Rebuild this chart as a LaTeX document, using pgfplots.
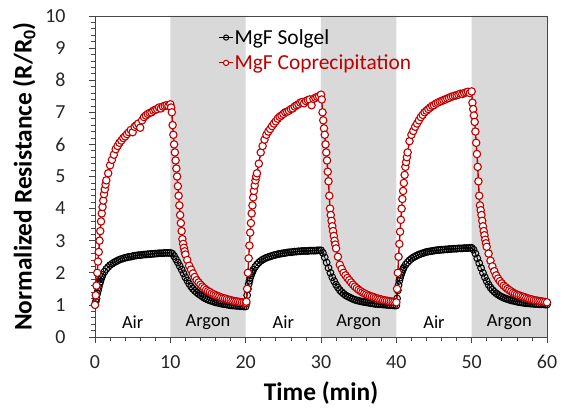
\documentclass[border=0pt]{standalone}
\usepackage{pgfplots}
\usepackage{pgfplotstable}
\pgfplotsset{compat=1.18}
\usepackage{fontspec}
\setmainfont{Carlito}
\definecolor{myred}{RGB}{192,0,0}
\definecolor{shade}{RGB}{217,217,217}
\definecolor{frame}{RGB}{70,70,70}

\pgfplotstableread{
t v
0.0 1.00
0.1 1.10
0.2 1.20
0.3 1.35
0.4 1.45
0.5 1.55
0.6 1.65
0.7 1.72
0.8 1.80
0.9 1.87
1.0 1.93
1.25 2.03
1.5 2.12
1.75 2.18
2.0 2.24
2.25 2.28
2.5 2.32
2.75 2.35
3.0 2.38
3.25 2.41
3.5 2.43
3.75 2.45
4.0 2.47
4.25 2.48
4.5 2.50
4.75 2.50
5.0 2.52
5.25 2.53
5.5 2.54
5.75 2.55
6.0 2.55
6.25 2.56
6.5 2.57
6.75 2.57
7.0 2.58
7.25 2.58
7.5 2.59
7.75 2.59
8.0 2.60
8.25 2.60
8.5 2.61
8.75 2.61
9.0 2.61
9.25 2.62
9.5 2.62
9.75 2.62
10.0 2.62
10.25 2.60
10.5 2.52
10.75 2.42
11.0 2.32
11.25 2.21
11.5 2.10
11.75 1.98
12.0 1.86
12.25 1.76
12.5 1.66
12.75 1.57
13.0 1.50
13.25 1.44
13.5 1.39
13.75 1.34
14.0 1.30
14.25 1.26
14.5 1.22
14.75 1.19
15.0 1.16
15.25 1.14
15.5 1.12
15.75 1.10
16.0 1.08
16.25 1.07
16.5 1.05
16.75 1.04
17.0 1.03
17.25 1.02
17.5 1.01
17.75 1.00
18.0 0.99
18.25 0.98
18.5 0.98
18.75 0.97
19.0 0.97
19.25 0.96
19.5 0.96
19.75 0.95
20.0 0.95
20.1 1.05
20.2 1.30
20.3 1.50
20.4 1.65
20.5 1.75
20.6 1.85
20.7 1.92
20.8 1.98
20.9 2.04
21.0 2.09
21.25 2.18
21.5 2.26
21.75 2.32
22.0 2.37
22.25 2.41
22.5 2.44
22.75 2.47
23.0 2.49
23.25 2.51
23.5 2.53
23.75 2.55
24.0 2.56
24.25 2.58
24.5 2.59
24.75 2.60
25.0 2.61
25.25 2.62
25.5 2.63
25.75 2.64
26.0 2.64
26.25 2.65
26.5 2.66
26.75 2.66
27.0 2.67
27.25 2.67
27.5 2.68
27.75 2.68
28.0 2.68
28.25 2.68
28.5 2.69
28.75 2.69
29.0 2.69
29.25 2.69
29.5 2.70
29.75 2.70
30.0 2.70
30.25 2.62
30.5 2.48
30.75 2.32
31.0 2.15
31.25 2.00
31.5 1.86
31.75 1.74
32.0 1.63
32.25 1.54
32.5 1.46
32.75 1.40
33.0 1.35
33.25 1.30
33.5 1.27
33.75 1.24
34.0 1.21
34.25 1.18
34.5 1.16
34.75 1.14
35.0 1.13
35.25 1.11
35.5 1.10
35.75 1.09
36.0 1.08
36.25 1.07
36.5 1.06
36.75 1.05
37.0 1.04
37.25 1.03
37.5 1.03
37.75 1.02
38.0 1.02
38.25 1.01
38.5 1.01
38.75 1.00
39.0 1.00
39.25 0.99
39.5 0.99
39.75 0.98
40.0 0.98
40.1 1.20
40.2 1.45
40.3 1.62
40.4 1.75
40.5 1.85
40.6 1.93
40.7 2.00
40.8 2.06
40.9 2.12
41.0 2.17
41.25 2.26
41.5 2.33
41.75 2.39
42.0 2.44
42.25 2.48
42.5 2.51
42.75 2.54
43.0 2.57
43.25 2.59
43.5 2.61
43.75 2.63
44.0 2.65
44.25 2.66
44.5 2.67
44.75 2.68
45.0 2.69
45.25 2.70
45.5 2.71
45.75 2.71
46.0 2.72
46.25 2.72
46.5 2.73
46.75 2.73
47.0 2.74
47.25 2.74
47.5 2.75
47.75 2.75
48.0 2.75
48.25 2.76
48.5 2.76
48.75 2.76
49.0 2.77
49.25 2.77
49.5 2.77
49.75 2.78
50.0 2.78
50.25 2.72
50.5 2.60
50.75 2.45
51.0 2.30
51.25 2.15
51.5 2.00
51.75 1.86
52.0 1.74
52.25 1.63
52.5 1.54
52.75 1.47
53.0 1.41
53.25 1.36
53.5 1.32
53.75 1.28
54.0 1.25
54.25 1.22
54.5 1.20
54.75 1.18
55.0 1.16
55.25 1.14
55.5 1.13
55.75 1.12
56.0 1.10
56.25 1.09
56.5 1.08
56.75 1.07
57.0 1.06
57.25 1.05
57.5 1.05
57.75 1.04
58.0 1.04
58.25 1.03
58.5 1.03
58.75 1.03
59.0 1.02
59.25 1.02
59.5 1.02
59.75 1.01
60.0 1.01
}\solgel

\pgfplotstableread{
t v
0.0 1.00
0.1 1.30
0.2 1.60
0.3 2.00
0.4 2.35
0.5 2.65
0.6 3.00
0.7 3.30
0.8 3.60
0.9 3.85
1.0 4.05
1.1 4.25
1.2 4.45
1.3 4.60
1.4 4.75
1.5 4.88
1.75 5.10
2.0 5.35
2.25 5.52
2.5 5.68
2.75 5.85
3.0 5.95
3.25 6.05
3.5 6.12
3.75 6.20
4.0 6.25
4.25 6.32
4.5 6.38
4.75 6.45
5.0 6.38
5.25 6.55
5.5 6.60
5.75 6.65
6.0 6.52
6.25 6.75
6.5 6.85
6.75 6.90
7.0 6.95
7.25 6.98
7.5 7.00
7.75 7.05
8.0 7.08
8.25 7.10
8.5 7.15
8.75 7.12
9.0 7.18
9.25 7.20
9.5 7.22
9.75 7.20
10.0 7.25
10.1 7.15
10.2 7.00
10.3 6.60
10.4 6.30
10.5 6.00
10.6 5.75
10.7 5.50
10.8 5.25
10.9 5.00
11.0 4.70
11.1 4.40
11.2 4.10
11.3 3.80
11.4 3.55
11.5 3.30
11.6 3.05
11.7 2.90
11.8 2.78
11.9 2.67
12.0 2.57
12.25 2.40
12.5 2.22
12.75 2.10
13.0 1.98
13.25 1.87
13.5 1.77
13.75 1.70
14.0 1.63
14.25 1.57
14.5 1.52
14.75 1.47
15.0 1.43
15.25 1.40
15.5 1.36
15.75 1.33
16.0 1.30
16.25 1.28
16.5 1.26
16.75 1.23
17.0 1.21
17.25 1.20
17.5 1.18
17.75 1.16
18.0 1.15
18.25 1.13
18.5 1.12
18.75 1.11
19.0 1.10
19.25 1.09
19.5 1.08
19.75 1.07
20.0 1.06
20.1 1.10
20.2 1.50
20.3 2.00
20.4 2.45
20.5 2.85
20.6 3.25
20.7 3.55
20.8 3.85
20.9 4.10
21.0 4.35
21.1 4.55
21.2 4.72
21.3 4.88
21.4 5.00
21.5 5.10
21.75 5.40
22.0 5.75
22.25 5.95
22.5 6.15
22.75 6.30
23.0 6.40
23.25 6.48
23.5 6.57
23.75 6.65
24.0 6.72
24.25 6.80
24.5 6.86
24.75 6.90
25.0 6.95
25.25 7.00
25.5 7.02
25.75 7.05
26.0 7.10
26.25 7.12
26.5 7.18
26.75 7.22
27.0 7.25
27.25 7.30
27.5 7.32
27.75 7.28
28.0 7.35
28.25 7.38
28.5 7.40
28.75 7.22
29.0 7.42
29.25 7.45
29.5 7.48
29.75 7.50
30.0 7.55
30.1 7.40
30.2 7.00
30.3 6.75
30.4 6.50
30.5 6.30
30.6 6.00
30.7 5.75
30.8 5.50
30.9 5.15
31.0 4.85
31.1 4.40
31.2 4.00
31.3 3.80
31.4 3.62
31.5 3.45
31.6 3.30
31.7 3.15
31.8 3.00
31.9 2.88
32.0 2.76
32.25 2.50
32.5 2.25
32.75 2.12
33.0 2.00
33.25 1.92
33.5 1.84
33.75 1.77
34.0 1.70
34.25 1.63
34.5 1.57
34.75 1.52
35.0 1.47
35.25 1.43
35.5 1.39
35.75 1.36
36.0 1.33
36.25 1.30
36.5 1.28
36.75 1.26
37.0 1.24
37.25 1.22
37.5 1.20
37.75 1.18
38.0 1.17
38.25 1.15
38.5 1.14
38.75 1.13
39.0 1.12
39.25 1.11
39.5 1.10
39.75 1.09
40.0 1.08
40.1 1.50
40.2 2.00
40.3 2.50
40.4 2.90
40.5 3.28
40.6 3.65
40.7 4.00
40.8 4.30
40.9 4.55
41.0 4.80
41.1 5.05
41.2 5.30
41.3 5.45
41.4 5.60
41.5 5.75
41.75 6.10
42.0 6.30
42.25 6.42
42.5 6.55
42.75 6.65
43.0 6.75
43.25 6.85
43.5 6.92
43.75 7.00
44.0 7.05
44.25 7.10
44.5 7.15
44.75 7.20
45.0 7.22
45.25 7.27
45.5 7.30
45.75 7.33
46.0 7.35
46.25 7.38
46.5 7.40
46.75 7.43
47.0 7.45
47.25 7.48
47.5 7.50
47.75 7.52
48.0 7.53
48.25 7.55
48.5 7.58
48.75 7.57
49.0 7.60
49.25 7.62
49.5 7.64
49.75 7.60
50.0 7.65
50.1 7.30
50.2 7.10
50.3 6.90
50.4 6.70
50.5 6.40
50.6 6.05
50.7 5.70
50.8 5.30
50.9 4.85
51.0 4.40
51.1 4.10
51.2 3.95
51.3 3.80
51.4 3.62
51.5 3.45
51.6 3.30
51.7 3.17
51.8 3.03
51.9 2.92
52.0 2.81
52.25 2.60
52.5 2.38
52.75 2.20
53.0 2.05
53.25 1.92
53.5 1.82
53.75 1.74
54.0 1.67
54.25 1.60
54.5 1.55
54.75 1.50
55.0 1.46
55.25 1.42
55.5 1.38
55.75 1.35
56.0 1.32
56.25 1.30
56.5 1.28
56.75 1.26
57.0 1.24
57.25 1.22
57.5 1.20
57.75 1.18
58.0 1.17
58.25 1.15
58.5 1.14
58.75 1.13
59.0 1.12
59.25 1.11
59.5 1.10
59.75 1.09
60.0 1.08
}\copre

\begin{document}
\begin{tikzpicture}
\useasboundingbox (-95bp,-73bp) rectangle (471bp,337bp);
\begin{axis}[
  at={(0,0)}, anchor=south west,
  scale only axis, width=452bp, height=321bp,
  xmin=0, xmax=60, ymin=0, ymax=10,
  xtick={0,10,...,60}, ytick={0,1,...,10},
  minor x tick num=4, minor y tick num=4,
  axis line style={frame, line width=0.9pt},
  every tick/.style={frame, line width=0.7pt},
  xtick pos=bottom, ytick pos=left,
  tick align=outside,
  major tick length=6bp, minor tick length=4bp,
  /pgf/number format/assume math mode=true,
  tick label style={font=\fontsize{20}{24}\selectfont, text=black!85},
  xticklabel style={yshift=-9bp},
  yticklabel style={xshift=-20bp},
  xlabel={\textbf{Time (min)}},
  ylabel={\textbf{Normalized Resistance (R/R\textsubscript{0})}},
  label style={font=\fontsize{25.5}{30}\selectfont, text=black},
  xlabel style={yshift=-6bp},
  ylabel style={yshift=3bp},
  axis on top,
  clip=false,
  legend style={at={(axis description cs:0.273,0.962)}, anchor=north west,
    draw=none, fill=none, font=\fontsize{21.5}{25}\selectfont,
    row sep=7bp, inner sep=0pt, nodes={inner sep=1bp}},
  legend cell align=left,
  legend image code/.code={
    \draw[#1, mark=none, line width=1pt] (0bp,0bp) -- (14bp,0bp);
    \draw[#1, only marks, mark size=2.6bp] plot coordinates {(7bp,0bp)};
  },
]
\addplot[fill=shade, draw=none, forget plot] coordinates {(10,0) (10,10) (20,10) (20,0) (10,0)};
\addplot[fill=shade, draw=none, forget plot] coordinates {(30,0) (30,10) (40,10) (40,0) (30,0)};
\addplot[fill=shade, draw=none, forget plot] coordinates {(50,0) (50,10) (60,10) (60,0) (50,0)};

\addplot[black, line width=0.8pt, mark=o, mark size=3.4bp,
  mark options={fill=white, line width=1pt}] table[x=t,y=v] {\solgel};
\addlegendentry{MgF Solgel}
\addplot[myred, line width=1.4pt, mark=*, mark size=3.7bp,
  mark options={fill=white, draw=myred, line width=1.1pt}] table[x=t,y=v] {\copre};
\addlegendentry{\textcolor{myred}{MgF Coprecipitation}}

\node[font=\fontsize{18.5}{22}\selectfont] at (axis cs:5,0.45) {Air};
\node[font=\fontsize{18.5}{22}\selectfont] at (axis cs:15,0.45) {Argon};
\node[font=\fontsize{18.5}{22}\selectfont] at (axis cs:25,0.45) {Air};
\node[font=\fontsize{18.5}{22}\selectfont] at (axis cs:35,0.45) {Argon};
\node[font=\fontsize{18.5}{22}\selectfont] at (axis cs:45,0.45) {Air};
\node[font=\fontsize{18.5}{22}\selectfont] at (axis cs:55,0.45) {Argon};
\end{axis}
\end{tikzpicture}
\end{document}
